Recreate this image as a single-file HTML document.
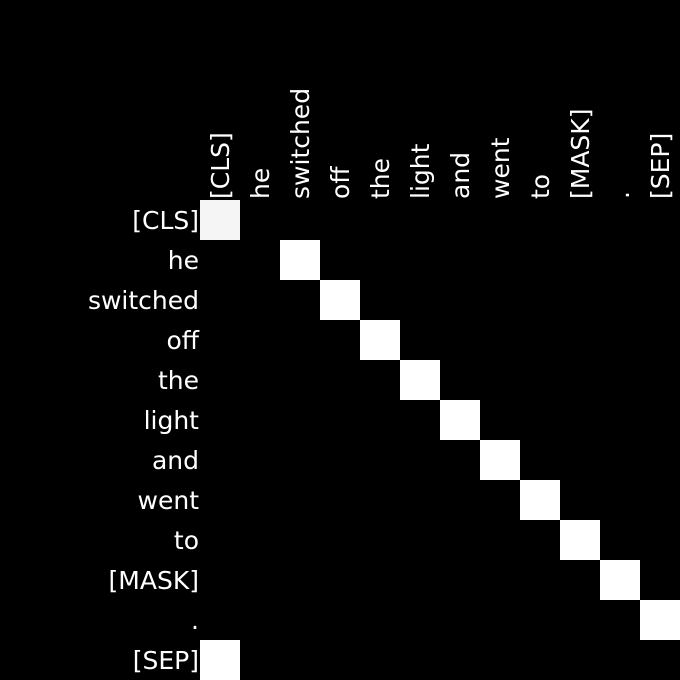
<!DOCTYPE html>
<html><head><meta charset="utf-8"><style>
html,body{margin:0;padding:0;background:#000;}
svg{display:block;}
text{font-family:"DejaVu Sans","Liberation Sans",sans-serif;font-size:25px;fill:#fff;}
</style></head><body>
<svg id="c" width="680" height="680" viewBox="0 0 680 680">
<rect width="680" height="680" fill="#000"/>
</svg>
<script>
const categories = ["[CLS]","he","switched","off","the","light","and","went","to","[MASK]",".","[SEP]"];
// attention weight matrix rows (query) x cols (key)
const hot = [0,2,3,4,5,6,7,8,9,10,11,0];
const hotVal = [0.96,1,1,1,1,1,1,1,1,1,1,1];
const matrix = categories.map((_, r) => categories.map((_, c) => c === hot[r] ? hotVal[r] : 0));

const svg = document.getElementById('c');
const NS = 'http://www.w3.org/2000/svg';
const x0 = 200, y0 = 200, cell = 40;
const xPos = i => x0 + i * cell;
const yPos = i => y0 + i * cell;
const color = v => { const g = Math.round(v * 255); return `rgb(${g},${g},${g})`; };

matrix.forEach((row, r) => row.forEach((v, c) => {
  if (v <= 0) return;
  const rect = document.createElementNS(NS, 'rect');
  
  
  rect.setAttribute('x', xPos(c)); rect.setAttribute('y', yPos(r));
  rect.setAttribute('width', cell); rect.setAttribute('height', cell);
  rect.setAttribute('fill', color(v));
  svg.appendChild(rect);
}));

categories.forEach((lab, i) => {
  const t = document.createElementNS(NS, 'text');
  
  
  t.setAttribute('x', 199); t.setAttribute('y', yPos(i) + cell / 2 + 9);
  t.setAttribute('text-anchor', 'end');
  t.textContent = lab;
  svg.appendChild(t);

  const t2 = document.createElementNS(NS, 'text');
  
  
  const cx = xPos(i) + cell / 2 + 9, cy = 199;
  t2.setAttribute('x', cx); t2.setAttribute('y', cy);
  t2.setAttribute('text-anchor', 'start');
  t2.setAttribute('transform', `rotate(-90 ${cx} ${cy})`);
  t2.textContent = lab;
  svg.appendChild(t2);
});
</script>
</body></html>
